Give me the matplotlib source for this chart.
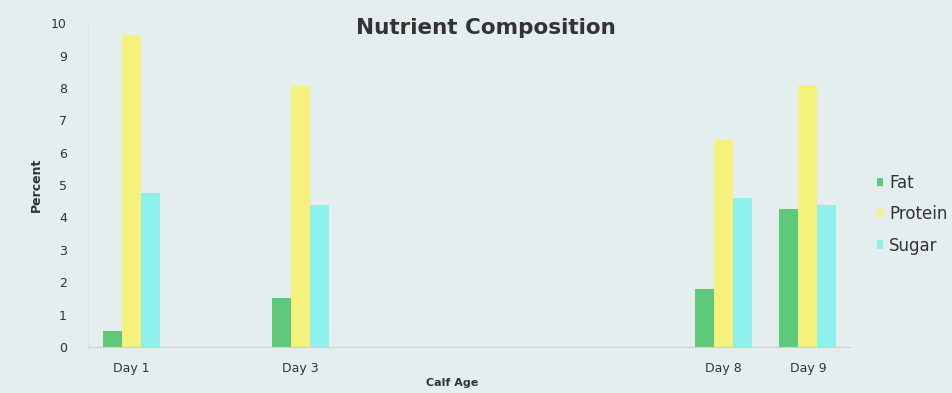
import numpy as np
import matplotlib.pyplot as plt

plt.rcParams['font.family'] = ['DejaVu Sans']

# calf age in days and nutrient percentages
days = [1, 3, 8, 9]
day_labels = ['Day 1', 'Day 3', 'Day 8', 'Day 9']
fat = [0.5, 1.5, 1.8, 4.25]
protein = [9.65, 8.05, 6.4, 8.1]
sugar = [4.75, 4.4, 4.6, 4.4]

bg = '#e4eeee'
text_col = '#333333'

fig = plt.figure(figsize=(9.53, 3.93), dpi=100, facecolor=bg)
ax = fig.add_axes([0.092, 0.117, 0.800, 0.824], facecolor=bg)

x = np.array(days, dtype=float)
w = 0.225
ax.bar(x - w, fat, w, color='#5ec97a', label='Fat')
ax.bar(x, protein, w, color='#f4f27c', label='Protein')
ax.bar(x + w, sugar, w, color='#8ef1ec', label='Sugar')

ax.set_xlim(0.48, 9.5)
ax.set_ylim(0, 10)
ax.set_yticks(range(0, 11))
ax.set_xticks(days)
ax.set_xticklabels(day_labels)
ax.tick_params(axis='both', length=0, labelsize=9, colors=text_col)
ax.tick_params(axis='y', pad=15)
ax.tick_params(axis='x', pad=11)

for side in ['top', 'right']:
    ax.spines[side].set_visible(False)
ax.spines['left'].set_color('#d8e2e2')
ax.spines['bottom'].set_color('#c8d0d0')

ax.set_ylabel('Percent', fontsize=9, fontweight='bold', color=text_col, labelpad=6)
ax.set_xlabel('Calf Age', fontsize=8, fontweight='bold', color=text_col)
ax.xaxis.set_label_coords((452 - 88) / 762, -0.095)

fig.text(0.51, 0.93, 'Nutrient Composition', ha='center', va='center',
         fontsize=15.5, fontweight='bold', color=text_col)

fig.legend(loc='center left', bbox_to_anchor=(0.904, 0.455), frameon=False,
           handlelength=0.4, handleheight=0.4, handletextpad=0.35,
           labelspacing=0.8, fontsize=12, labelcolor=text_col)

fig.savefig('out.png', dpi=100, facecolor=bg)
